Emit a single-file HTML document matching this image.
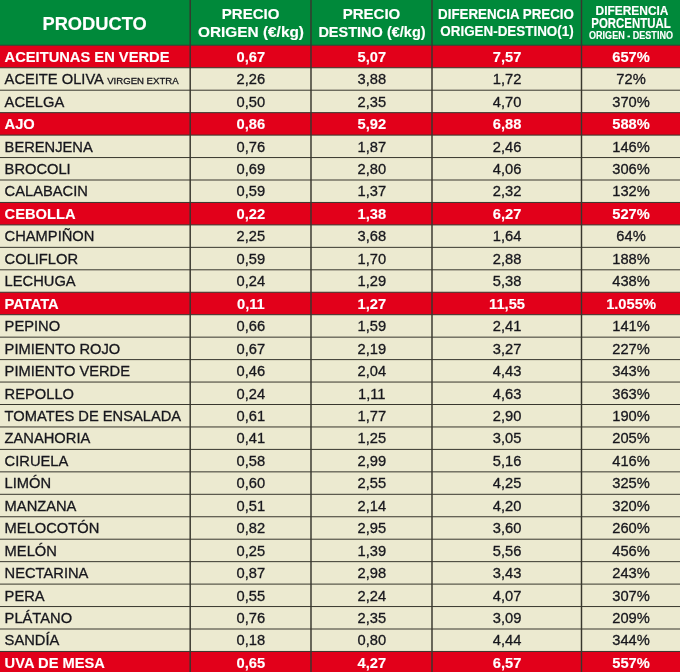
<!DOCTYPE html><html lang="es"><head><meta charset="utf-8"><title>Precios origen-destino</title><style>
html,body{margin:0;padding:0}
body{width:680px;height:672px;overflow:hidden;position:relative;background:#ecead0;font-family:"Liberation Sans",Arial,sans-serif;color:#17171d}
.a{position:absolute;white-space:nowrap;-webkit-text-stroke:0.3px}
.hd{left:0;top:0;width:680px;height:45.3px;background:#00893a}
.red{left:0;width:680px;background:#e2001a}
.hl{left:0;width:680px;height:1.4px;background:#34322a}
.vl{top:0;height:672px;width:1.6px;background:#2a2a22}
.t{font-size:14.7px;line-height:22.45px;height:22.45px}
.c{text-align:center}
.w{color:#fff;font-weight:bold;-webkit-text-stroke:0.12px}
.h{color:#fff;font-weight:bold;text-align:center;transform-origin:50% 50%;-webkit-text-stroke:0.15px}
.sm{font-size:9.6px}
</style></head><body>
<svg class="a" style="left:0;top:0" width="680" height="672" viewBox="0 0 680 672"><rect x="0" y="0" width="680" height="45.3" fill="#00893a"/><rect x="0" y="45.30" width="680" height="22.45" fill="#e2001a"/><rect x="0" y="112.65" width="680" height="22.45" fill="#e2001a"/><rect x="0" y="202.45" width="680" height="22.45" fill="#e2001a"/><rect x="0" y="292.25" width="680" height="22.45" fill="#e2001a"/><rect x="0" y="651.45" width="680" height="22.45" fill="#e2001a"/><rect x="0" y="44.80" width="680" height="1.0" fill="#38372e"/><rect x="0" y="67.25" width="680" height="1.0" fill="#38372e"/><rect x="0" y="89.70" width="680" height="1.0" fill="#38372e"/><rect x="0" y="112.15" width="680" height="1.0" fill="#38372e"/><rect x="0" y="134.60" width="680" height="1.0" fill="#38372e"/><rect x="0" y="157.05" width="680" height="1.0" fill="#38372e"/><rect x="0" y="179.50" width="680" height="1.0" fill="#38372e"/><rect x="0" y="201.95" width="680" height="1.0" fill="#38372e"/><rect x="0" y="224.40" width="680" height="1.0" fill="#38372e"/><rect x="0" y="246.85" width="680" height="1.0" fill="#38372e"/><rect x="0" y="269.30" width="680" height="1.0" fill="#38372e"/><rect x="0" y="291.75" width="680" height="1.0" fill="#38372e"/><rect x="0" y="314.20" width="680" height="1.0" fill="#38372e"/><rect x="0" y="336.65" width="680" height="1.0" fill="#38372e"/><rect x="0" y="359.10" width="680" height="1.0" fill="#38372e"/><rect x="0" y="381.55" width="680" height="1.0" fill="#38372e"/><rect x="0" y="404.00" width="680" height="1.0" fill="#38372e"/><rect x="0" y="426.45" width="680" height="1.0" fill="#38372e"/><rect x="0" y="448.90" width="680" height="1.0" fill="#38372e"/><rect x="0" y="471.35" width="680" height="1.0" fill="#38372e"/><rect x="0" y="493.80" width="680" height="1.0" fill="#38372e"/><rect x="0" y="516.25" width="680" height="1.0" fill="#38372e"/><rect x="0" y="538.70" width="680" height="1.0" fill="#38372e"/><rect x="0" y="561.15" width="680" height="1.0" fill="#38372e"/><rect x="0" y="583.60" width="680" height="1.0" fill="#38372e"/><rect x="0" y="606.05" width="680" height="1.0" fill="#38372e"/><rect x="0" y="628.50" width="680" height="1.0" fill="#38372e"/><rect x="0" y="650.95" width="680" height="1.0" fill="#38372e"/><rect x="0" y="673.40" width="680" height="1.0" fill="#38372e"/><rect x="189.47" y="0" width="1.45" height="672" fill="#38372e"/><rect x="310.27" y="0" width="1.45" height="672" fill="#38372e"/><rect x="431.27" y="0" width="1.45" height="672" fill="#38372e"/><rect x="580.77" y="0" width="1.45" height="672" fill="#38372e"/></svg>
<div class="a h" style="left:-55.40px;width:300px;top:13.28px;font-size:18.3px;line-height:21.96px;">PRODUCTO</div>
<div class="a h" style="left:100.60px;width:300px;top:4.60px;font-size:15px;line-height:18.00px;">PRECIO</div>
<div class="a h" style="left:101.10px;width:300px;top:22.60px;font-size:15px;line-height:18.00px;transform:scaleX(1.025);">ORIGEN (€/kg)</div>
<div class="a h" style="left:221.50px;width:300px;top:4.60px;font-size:15px;line-height:18.00px;">PRECIO</div>
<div class="a h" style="left:221.80px;width:300px;top:22.60px;font-size:15px;line-height:18.00px;transform:scaleX(0.967);">DESTINO (€/kg)</div>
<div class="a h" style="left:356.15px;width:300px;top:5.50px;font-size:14px;line-height:16.80px;transform:scaleX(0.952);">DIFERENCIA PRECIO</div>
<div class="a h" style="left:357.05px;width:300px;top:23.45px;font-size:14px;line-height:16.80px;transform:scaleX(0.957);">ORIGEN-DESTINO(1)</div>
<div class="a h" style="left:481.75px;width:300px;top:2.81px;font-size:13.2px;line-height:15.84px;transform:scaleX(0.905);">DIFERENCIA</div>
<div class="a h" style="left:480.95px;width:300px;top:14.65px;font-size:14px;line-height:16.80px;transform:scaleX(0.815);">PORCENTUAL</div>
<div class="a h" style="left:481.15px;width:300px;top:29.16px;font-size:10.5px;line-height:12.60px;transform:scaleX(0.862);">ORIGEN - DESTINO</div>
<div class="a t w" style="left:4.6px;top:45.78px">ACEITUNAS EN VERDE</div>
<div class="a t w c" style="left:190.50px;width:120.80px;top:45.78px">0,67</div>
<div class="a t w c" style="left:311.30px;width:121.00px;top:45.78px">5,07</div>
<div class="a t w c" style="left:432.30px;width:149.50px;top:45.78px">7,57</div>
<div class="a t w c" style="left:581.80px;width:98.50px;top:45.78px">657%</div>
<div class="a t" style="left:4.6px;top:68.23px">ACEITE OLIVA <span class="sm">VIRGEN EXTRA</span></div>
<div class="a t c" style="left:190.50px;width:120.80px;top:68.23px">2,26</div>
<div class="a t c" style="left:311.30px;width:121.00px;top:68.23px">3,88</div>
<div class="a t c" style="left:432.30px;width:149.50px;top:68.23px">1,72</div>
<div class="a t c" style="left:581.80px;width:98.50px;top:68.23px">72%</div>
<div class="a t" style="left:4.6px;top:90.68px">ACELGA</div>
<div class="a t c" style="left:190.50px;width:120.80px;top:90.68px">0,50</div>
<div class="a t c" style="left:311.30px;width:121.00px;top:90.68px">2,35</div>
<div class="a t c" style="left:432.30px;width:149.50px;top:90.68px">4,70</div>
<div class="a t c" style="left:581.80px;width:98.50px;top:90.68px">370%</div>
<div class="a t w" style="left:4.6px;top:113.13px">AJO</div>
<div class="a t w c" style="left:190.50px;width:120.80px;top:113.13px">0,86</div>
<div class="a t w c" style="left:311.30px;width:121.00px;top:113.13px">5,92</div>
<div class="a t w c" style="left:432.30px;width:149.50px;top:113.13px">6,88</div>
<div class="a t w c" style="left:581.80px;width:98.50px;top:113.13px">588%</div>
<div class="a t" style="left:4.6px;top:135.58px">BERENJENA</div>
<div class="a t c" style="left:190.50px;width:120.80px;top:135.58px">0,76</div>
<div class="a t c" style="left:311.30px;width:121.00px;top:135.58px">1,87</div>
<div class="a t c" style="left:432.30px;width:149.50px;top:135.58px">2,46</div>
<div class="a t c" style="left:581.80px;width:98.50px;top:135.58px">146%</div>
<div class="a t" style="left:4.6px;top:158.03px">BROCOLI</div>
<div class="a t c" style="left:190.50px;width:120.80px;top:158.03px">0,69</div>
<div class="a t c" style="left:311.30px;width:121.00px;top:158.03px">2,80</div>
<div class="a t c" style="left:432.30px;width:149.50px;top:158.03px">4,06</div>
<div class="a t c" style="left:581.80px;width:98.50px;top:158.03px">306%</div>
<div class="a t" style="left:4.6px;top:180.48px">CALABACIN</div>
<div class="a t c" style="left:190.50px;width:120.80px;top:180.48px">0,59</div>
<div class="a t c" style="left:311.30px;width:121.00px;top:180.48px">1,37</div>
<div class="a t c" style="left:432.30px;width:149.50px;top:180.48px">2,32</div>
<div class="a t c" style="left:581.80px;width:98.50px;top:180.48px">132%</div>
<div class="a t w" style="left:4.6px;top:202.93px">CEBOLLA</div>
<div class="a t w c" style="left:190.50px;width:120.80px;top:202.93px">0,22</div>
<div class="a t w c" style="left:311.30px;width:121.00px;top:202.93px">1,38</div>
<div class="a t w c" style="left:432.30px;width:149.50px;top:202.93px">6,27</div>
<div class="a t w c" style="left:581.80px;width:98.50px;top:202.93px">527%</div>
<div class="a t" style="left:4.6px;top:225.38px">CHAMPIÑON</div>
<div class="a t c" style="left:190.50px;width:120.80px;top:225.38px">2,25</div>
<div class="a t c" style="left:311.30px;width:121.00px;top:225.38px">3,68</div>
<div class="a t c" style="left:432.30px;width:149.50px;top:225.38px">1,64</div>
<div class="a t c" style="left:581.80px;width:98.50px;top:225.38px">64%</div>
<div class="a t" style="left:4.6px;top:247.83px">COLIFLOR</div>
<div class="a t c" style="left:190.50px;width:120.80px;top:247.83px">0,59</div>
<div class="a t c" style="left:311.30px;width:121.00px;top:247.83px">1,70</div>
<div class="a t c" style="left:432.30px;width:149.50px;top:247.83px">2,88</div>
<div class="a t c" style="left:581.80px;width:98.50px;top:247.83px">188%</div>
<div class="a t" style="left:4.6px;top:270.28px">LECHUGA</div>
<div class="a t c" style="left:190.50px;width:120.80px;top:270.28px">0,24</div>
<div class="a t c" style="left:311.30px;width:121.00px;top:270.28px">1,29</div>
<div class="a t c" style="left:432.30px;width:149.50px;top:270.28px">5,38</div>
<div class="a t c" style="left:581.80px;width:98.50px;top:270.28px">438%</div>
<div class="a t w" style="left:4.6px;top:292.73px">PATATA</div>
<div class="a t w c" style="left:190.50px;width:120.80px;top:292.73px">0,11</div>
<div class="a t w c" style="left:311.30px;width:121.00px;top:292.73px">1,27</div>
<div class="a t w c" style="left:432.30px;width:149.50px;top:292.73px">11,55</div>
<div class="a t w c" style="left:581.80px;width:98.50px;top:292.73px">1.055%</div>
<div class="a t" style="left:4.6px;top:315.18px">PEPINO</div>
<div class="a t c" style="left:190.50px;width:120.80px;top:315.18px">0,66</div>
<div class="a t c" style="left:311.30px;width:121.00px;top:315.18px">1,59</div>
<div class="a t c" style="left:432.30px;width:149.50px;top:315.18px">2,41</div>
<div class="a t c" style="left:581.80px;width:98.50px;top:315.18px">141%</div>
<div class="a t" style="left:4.6px;top:337.63px">PIMIENTO ROJO</div>
<div class="a t c" style="left:190.50px;width:120.80px;top:337.63px">0,67</div>
<div class="a t c" style="left:311.30px;width:121.00px;top:337.63px">2,19</div>
<div class="a t c" style="left:432.30px;width:149.50px;top:337.63px">3,27</div>
<div class="a t c" style="left:581.80px;width:98.50px;top:337.63px">227%</div>
<div class="a t" style="left:4.6px;top:360.08px">PIMIENTO VERDE</div>
<div class="a t c" style="left:190.50px;width:120.80px;top:360.08px">0,46</div>
<div class="a t c" style="left:311.30px;width:121.00px;top:360.08px">2,04</div>
<div class="a t c" style="left:432.30px;width:149.50px;top:360.08px">4,43</div>
<div class="a t c" style="left:581.80px;width:98.50px;top:360.08px">343%</div>
<div class="a t" style="left:4.6px;top:382.53px">REPOLLO</div>
<div class="a t c" style="left:190.50px;width:120.80px;top:382.53px">0,24</div>
<div class="a t c" style="left:311.30px;width:121.00px;top:382.53px">1,11</div>
<div class="a t c" style="left:432.30px;width:149.50px;top:382.53px">4,63</div>
<div class="a t c" style="left:581.80px;width:98.50px;top:382.53px">363%</div>
<div class="a t" style="left:4.6px;top:404.98px">TOMATES DE ENSALADA</div>
<div class="a t c" style="left:190.50px;width:120.80px;top:404.98px">0,61</div>
<div class="a t c" style="left:311.30px;width:121.00px;top:404.98px">1,77</div>
<div class="a t c" style="left:432.30px;width:149.50px;top:404.98px">2,90</div>
<div class="a t c" style="left:581.80px;width:98.50px;top:404.98px">190%</div>
<div class="a t" style="left:4.6px;top:427.43px">ZANAHORIA</div>
<div class="a t c" style="left:190.50px;width:120.80px;top:427.43px">0,41</div>
<div class="a t c" style="left:311.30px;width:121.00px;top:427.43px">1,25</div>
<div class="a t c" style="left:432.30px;width:149.50px;top:427.43px">3,05</div>
<div class="a t c" style="left:581.80px;width:98.50px;top:427.43px">205%</div>
<div class="a t" style="left:4.6px;top:449.88px">CIRUELA</div>
<div class="a t c" style="left:190.50px;width:120.80px;top:449.88px">0,58</div>
<div class="a t c" style="left:311.30px;width:121.00px;top:449.88px">2,99</div>
<div class="a t c" style="left:432.30px;width:149.50px;top:449.88px">5,16</div>
<div class="a t c" style="left:581.80px;width:98.50px;top:449.88px">416%</div>
<div class="a t" style="left:4.6px;top:472.33px">LIMÓN</div>
<div class="a t c" style="left:190.50px;width:120.80px;top:472.33px">0,60</div>
<div class="a t c" style="left:311.30px;width:121.00px;top:472.33px">2,55</div>
<div class="a t c" style="left:432.30px;width:149.50px;top:472.33px">4,25</div>
<div class="a t c" style="left:581.80px;width:98.50px;top:472.33px">325%</div>
<div class="a t" style="left:4.6px;top:494.78px">MANZANA</div>
<div class="a t c" style="left:190.50px;width:120.80px;top:494.78px">0,51</div>
<div class="a t c" style="left:311.30px;width:121.00px;top:494.78px">2,14</div>
<div class="a t c" style="left:432.30px;width:149.50px;top:494.78px">4,20</div>
<div class="a t c" style="left:581.80px;width:98.50px;top:494.78px">320%</div>
<div class="a t" style="left:4.6px;top:517.23px">MELOCOTÓN</div>
<div class="a t c" style="left:190.50px;width:120.80px;top:517.23px">0,82</div>
<div class="a t c" style="left:311.30px;width:121.00px;top:517.23px">2,95</div>
<div class="a t c" style="left:432.30px;width:149.50px;top:517.23px">3,60</div>
<div class="a t c" style="left:581.80px;width:98.50px;top:517.23px">260%</div>
<div class="a t" style="left:4.6px;top:539.68px">MELÓN</div>
<div class="a t c" style="left:190.50px;width:120.80px;top:539.68px">0,25</div>
<div class="a t c" style="left:311.30px;width:121.00px;top:539.68px">1,39</div>
<div class="a t c" style="left:432.30px;width:149.50px;top:539.68px">5,56</div>
<div class="a t c" style="left:581.80px;width:98.50px;top:539.68px">456%</div>
<div class="a t" style="left:4.6px;top:562.13px">NECTARINA</div>
<div class="a t c" style="left:190.50px;width:120.80px;top:562.13px">0,87</div>
<div class="a t c" style="left:311.30px;width:121.00px;top:562.13px">2,98</div>
<div class="a t c" style="left:432.30px;width:149.50px;top:562.13px">3,43</div>
<div class="a t c" style="left:581.80px;width:98.50px;top:562.13px">243%</div>
<div class="a t" style="left:4.6px;top:584.58px">PERA</div>
<div class="a t c" style="left:190.50px;width:120.80px;top:584.58px">0,55</div>
<div class="a t c" style="left:311.30px;width:121.00px;top:584.58px">2,24</div>
<div class="a t c" style="left:432.30px;width:149.50px;top:584.58px">4,07</div>
<div class="a t c" style="left:581.80px;width:98.50px;top:584.58px">307%</div>
<div class="a t" style="left:4.6px;top:607.03px">PLÁTANO</div>
<div class="a t c" style="left:190.50px;width:120.80px;top:607.03px">0,76</div>
<div class="a t c" style="left:311.30px;width:121.00px;top:607.03px">2,35</div>
<div class="a t c" style="left:432.30px;width:149.50px;top:607.03px">3,09</div>
<div class="a t c" style="left:581.80px;width:98.50px;top:607.03px">209%</div>
<div class="a t" style="left:4.6px;top:629.48px">SANDÍA</div>
<div class="a t c" style="left:190.50px;width:120.80px;top:629.48px">0,18</div>
<div class="a t c" style="left:311.30px;width:121.00px;top:629.48px">0,80</div>
<div class="a t c" style="left:432.30px;width:149.50px;top:629.48px">4,44</div>
<div class="a t c" style="left:581.80px;width:98.50px;top:629.48px">344%</div>
<div class="a t w" style="left:4.6px;top:651.93px">UVA DE MESA</div>
<div class="a t w c" style="left:190.50px;width:120.80px;top:651.93px">0,65</div>
<div class="a t w c" style="left:311.30px;width:121.00px;top:651.93px">4,27</div>
<div class="a t w c" style="left:432.30px;width:149.50px;top:651.93px">6,57</div>
<div class="a t w c" style="left:581.80px;width:98.50px;top:651.93px">557%</div>
</body></html>
